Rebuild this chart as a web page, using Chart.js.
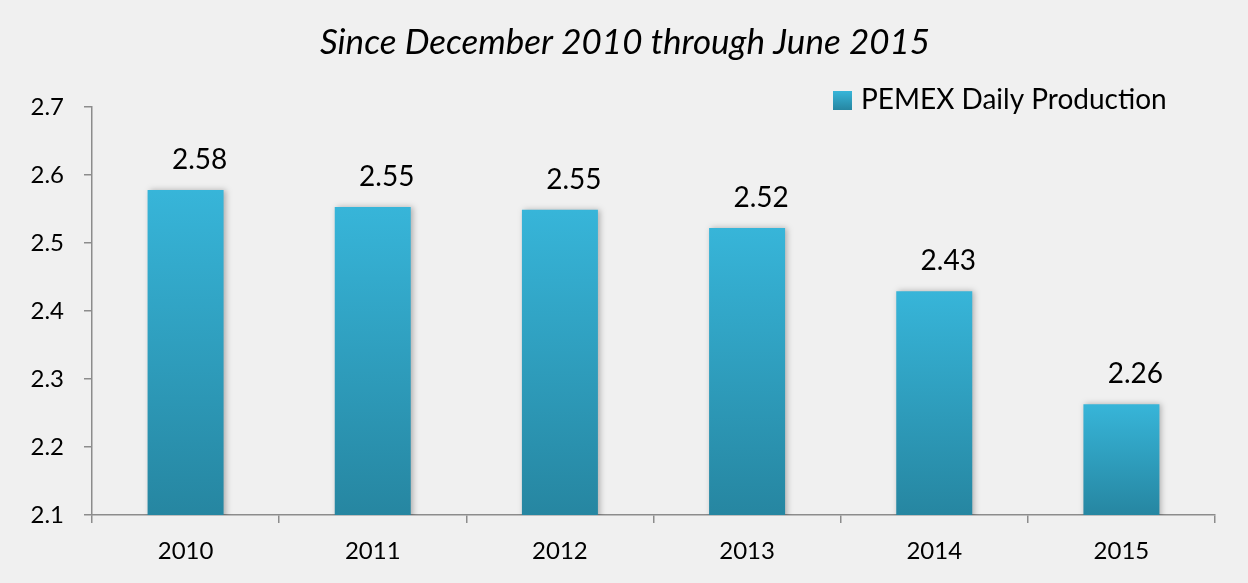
<!DOCTYPE html>
<html>
<head>
<meta charset="utf-8">
<script src="https://cdn.jsdelivr.net/npm/chart.js@4/dist/chart.umd.min.js"></script>
<style>
html,body{margin:0;padding:0;background:#f0f0f0;}
#wrap{width:1248px;height:583px;}
</style>
</head>
<body>
<div id="wrap"><canvas id="c" width="1248" height="583"></canvas></div>
<script>
const categories = ['2010', '2011', '2012', '2013', '2014', '2015'];
const production = [2.578, 2.553, 2.549, 2.522, 2.429, 2.263];
const dataLabels = ['2.58', '2.55', '2.55', '2.52', '2.43', '2.26'];
const seriesName = 'PEMEX Daily Production';
const chartTitle = 'Since December 2010 through June 2015';

const FONT = 'Lato, "Open Sans", sans-serif';
const TOP_COLOR = '#37b5d9';
const BOTTOM_COLOR = '#2686a1';

function barGradient(ctx) {
  const chart = ctx.chart;
  const area = chart.chartArea;
  if (!area || ctx.type !== 'data') return TOP_COLOR;
  const y = chart.scales.y;
  const top = y.getPixelForValue(ctx.raw);
  const bottom = y.getPixelForValue(y.min);
  const g = chart.ctx.createLinearGradient(0, top, 0, bottom);
  g.addColorStop(0, TOP_COLOR);
  g.addColorStop(1, BOTTOM_COLOR);
  return g;
}

const decorPlugin = {
  id: 'decor',
  beforeDraw(chart) {
    const c = chart.ctx;
    c.save();
    c.fillStyle = '#f0f0f0';
    c.fillRect(0, 0, chart.width, chart.height);
    c.restore();
  },
  beforeDatasetsDraw(chart) {
    const c = chart.ctx;
    c.save();
    c.shadowColor = 'rgba(0,0,0,0.28)';
    c.shadowBlur = 6;
    c.shadowOffsetX = 2;
    c.shadowOffsetY = 0;
  },
  afterDatasetsDraw(chart) {
    const c = chart.ctx;
    c.restore();
    c.save();
    c.font = '28px ' + FONT;
    c.fillStyle = '#000';
    c.textAlign = 'center';
    c.textBaseline = 'middle';
    const meta = chart.getDatasetMeta(0);
    meta.data.forEach((bar, i) => {
      c.fillText(dataLabels[i], bar.x + 14, bar.y - 30);
    });
    c.restore();
  },
  afterDraw(chart) {
    const c = chart.ctx;
    c.save();
    // title
    c.font = 'italic 35px ' + FONT;
    c.fillStyle = '#000';
    c.textAlign = 'center';
    c.textBaseline = 'middle';
    c.fillText(chartTitle, 625, 43);
    // legend
    const g = c.createLinearGradient(0, 91, 0, 110);
    g.addColorStop(0, TOP_COLOR);
    g.addColorStop(1, BOTTOM_COLOR);
    c.fillStyle = g;
    c.fillRect(833, 91, 19, 19);
    c.fillStyle = '#000';
    c.font = '28px ' + FONT;
    c.textAlign = 'left';
    c.fillText(seriesName, 861, 100);
    c.restore();
  }
};

new Chart(document.getElementById('c'), {
  type: 'bar',
  data: {
    labels: categories,
    datasets: [{
      label: seriesName,
      data: production,
      backgroundColor: barGradient,
      borderWidth: 0,
      categoryPercentage: 1,
      barPercentage: 0.406
    }]
  },
  options: {
    responsive: false,
    animation: false,
    devicePixelRatio: 1,
    layout: { padding: { top: 107, right: 33, left: 0, bottom: 0 } },
    plugins: {
      legend: { display: false },
      title: { display: false },
      tooltip: { enabled: false }
    },
    scales: {
      y: {
        min: 2.1,
        max: 2.7,
        ticks: {
          stepSize: 0.1,
          color: '#000',
          font: { family: FONT, size: 24 },
          padding: 20,
          callback: v => v.toFixed(1)
        },
        grid: { drawOnChartArea: false, drawTicks: true, tickLength: 8, color: '#8c8c8c', lineWidth: 1.5 },
        border: { display: true, color: '#8c8c8c', width: 1.5 },
        afterFit(scale) { scale.width = 92; }
      },
      x: {
        offset: true,
        ticks: {
          color: '#000',
          font: { family: FONT, size: 24 },
          padding: 14
        },
        grid: { offset: true, drawOnChartArea: false, drawTicks: true, tickLength: 8, color: '#8c8c8c', lineWidth: 1.5 },
        border: { display: true, color: '#8c8c8c', width: 1.5 },
        afterFit(scale) { scale.height = 68; }
      }
    }
  },
  plugins: [decorPlugin]
});
</script>
</body>
</html>
